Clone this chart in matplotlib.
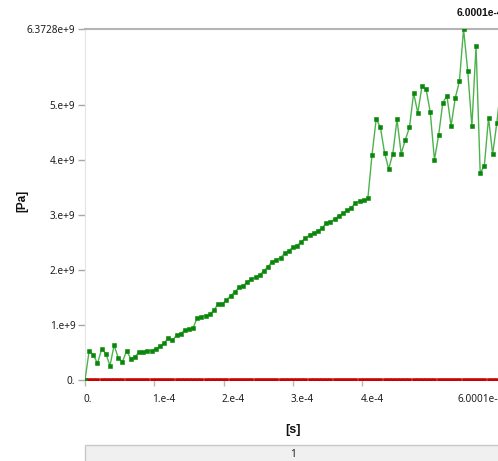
import numpy as np
import matplotlib.pyplot as plt
import matplotlib.transforms as mtransforms
from matplotlib.patches import Rectangle

# time axis: 100 equal steps up to the final time
t_end = 6.0001e-4
n_steps = 100
time = np.linspace(0.0, t_end, n_steps + 1)

# green series [Pa] (x 1e9)
green_vals = [0.0, 0.53, 0.46, 0.30, 0.56, 0.48, 0.26, 0.63, 0.40, 0.33,
              0.53, 0.39, 0.42, 0.51, 0.51, 0.53, 0.53, 0.57, 0.61, 0.67,
              0.76, 0.72, 0.81, 0.84, 0.91, 0.92, 0.95, 1.13, 1.15, 1.17,
              1.19, 1.27, 1.38, 1.38, 1.45, 1.53, 1.60, 1.68, 1.71, 1.78,
              1.83, 1.87, 1.91, 1.98, 2.06, 2.15, 2.18, 2.22, 2.30, 2.35,
              2.41, 2.44, 2.51, 2.58, 2.63, 2.67, 2.71, 2.76, 2.85, 2.87,
              2.92, 2.98, 3.03, 3.08, 3.13, 3.21, 3.25, 3.26, 3.30, 4.09,
              4.74, 4.59, 4.13, 3.83, 4.11, 4.73, 4.11, 4.36, 4.59, 5.21,
              4.85, 5.33, 5.28, 4.86, 4.00, 4.44, 5.03, 5.16, 4.61, 5.12,
              5.42, 6.3728, 5.61, 4.61, 6.06, 3.76, 3.89, 4.76, 4.10, 4.67,
              5.35]
green = np.array(green_vals) * 1e9

# red series is zero at every step
red = np.zeros(n_steps + 1)

y_max = 6.3728e9
ytick_vals = [0, 1e9, 2e9, 3e9, 4e9, 5e9, y_max]
ytick_labels = ['0.', '1.e+9', '2.e+9', '3.e+9', '4.e+9', '5.e+9', '6.3728e+9']
xtick_vals = [0, 1e-4, 2e-4, 3e-4, 4e-4]
xtick_labels = ['0.', '1.e-4', '2.e-4', '3.e-4', '4.e-4']
end_label = '6.0001e-4'

plt.rcParams['font.family'] = ['Noto Sans', 'DejaVu Sans']
BOLD = ['Liberation Sans', 'DejaVu Sans']

W, H = 498, 461
fig = plt.figure(figsize=(W / 100, H / 100), dpi=100)
ax = fig.add_axes([85 / W, (H - 380) / H, 416 / W, 351 / H])

ax.plot(time, red, color='#e87070', lw=1.2, marker='s', ms=2.4, mew=0.4,
        mec='#c80000', mfc='#c80000', zorder=3)
ax.plot(time, green, color='#4cb34c', lw=1, marker='s', ms=2.4, mew=0.4,
        mec='#0a870a', mfc='#0a870a', zorder=4)

ax.set_xlim(0, t_end)
ax.set_ylim(0, y_max)

ax.spines['right'].set_visible(False)
ax.spines['top'].set_color('#b4b4b4')
ax.spines['top'].set_linewidth(1.5)
ax.spines['left'].set_color('#e4e4e4')
ax.spines['bottom'].set_color('#e4e4e4')

ax.set_yticks(ytick_vals)
ax.set_yticklabels(ytick_labels)
ax.tick_params(axis='y', length=5, width=1, color='#a8a8a8', pad=2,
               labelsize=7.2, labelcolor='#1e1e1e')
ax.set_xticks(xtick_vals)
ax.tick_params(axis='x', length=4.5, width=1, color='#b8b8b8',
               labelbottom=False)

# x tick labels start at their tick, like the original
blend = mtransforms.blended_transform_factory(ax.transData, ax.transAxes)
def px(dx, dy):
    return mtransforms.ScaledTranslation(dx / 100, dy / 100, fig.dpi_scale_trans)

for v, lab in zip(xtick_vals, xtick_labels):
    ax.text(v, 0, lab, transform=blend + px(-2, -14), ha='left', va='top',
            fontsize=7.2, color='#1e1e1e', clip_on=False)
ax.text(1, 0, end_label, transform=ax.transAxes + px(-44, -14), ha='left',
        va='top', fontsize=7.2, color='#1e1e1e', clip_on=False)

# current time marker at the top
fig.text(457 / W, 1 - 12.5 / H, end_label, ha='left', va='center',
         fontsize=7.5, fontweight='bold', family=BOLD, color='#111111')

fig.text(22 / W, 1 - 201 / H, '[Pa]', rotation=90, ha='center', va='center',
         fontsize=8.5, fontweight='bold', family=BOLD, color='#111111')
fig.text(293 / W, 1 - 430 / H, '[s]', ha='center', va='center',
         fontsize=9, fontweight='bold', family=BOLD, color='#111111')

# legend bar at the bottom
fig.patches.append(Rectangle((85 / W, -0.01), 1, (461 - 445) / H + 0.01,
                             transform=fig.transFigure, fc='#f0f0f0',
                             ec='#c8c8c8', lw=1))
fig.text(293 / W, 1 - 454.5 / H, '1', ha='center', va='center', fontsize=7.2,
         color='#1e1e1e')

fig.savefig('out.png', dpi=100)
